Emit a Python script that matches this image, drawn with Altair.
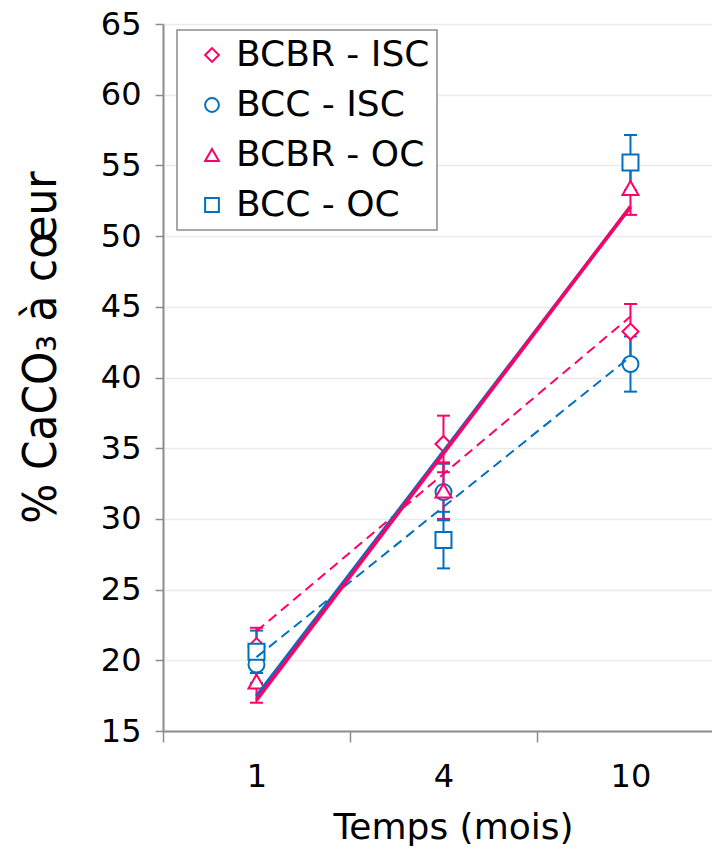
import altair as alt
import pandas as pd

# ---- data ----
series = ["BCBR - ISC", "BCC - ISC", "BCBR - OC", "BCC - OC"]
months = ["1", "4", "10"]
month_index = [1, 2, 3]

bcbr_isc = [21.0, 35.3, 43.25]
bcc_isc = [19.7, 31.9, 40.95]
bcbr_oc = [18.5, 32.0, 53.4]
bcc_oc = [20.6, 28.5, 55.2]

bcbr_isc_err = [1.3, 2.0, 1.95]
bcc_isc_err = [1.3, 2.0, 1.95]
bcbr_oc_err = [1.5, 2.0, 1.9]
bcc_oc_err = [1.5, 2.0, 1.95]

colors = ["#FF0066", "#0070C0", "#FF0066", "#0070C0"]
shapes = ["diamond", "circle", "triangle-up", "square"]
y_ticks = [15, 20, 25, 30, 35, 40, 45, 50, 55, 60, 65]

vals = [bcbr_isc, bcc_isc, bcbr_oc, bcc_oc]
errs = [bcbr_isc_err, bcc_isc_err, bcbr_oc_err, bcc_oc_err]

rows = []
for s, v, e in zip(series, vals, errs):
    for xi, m, val, er in zip(month_index, months, v, e):
        rows.append({"series": s, "xi": xi, "mois": m, "value": val,
                     "lo": val - er, "hi": val + er})
df = pd.DataFrame(rows)

label_expr = "".join(f"datum.value === {i} ? '{m}' : " for i, m in zip(month_index, months)) + "''"

xscale = alt.Scale(domain=[0.5, 3.436], nice=False, zero=False)
yscale = alt.Scale(domain=[15, 65], nice=False, zero=False)

x_axis = alt.Axis(
    values=[0.5, 1, 1.5, 2, 2.5, 3],
    labelExpr=label_expr,
    tickOpacity={"condition": {"test": "datum.value % 1 === 0", "value": 0}, "value": 1},
    grid=False,
    tickSize=11,
    labelPadding=19,
    labelFlush=False,
    labelOverlap=False,
    title="Temps (mois)",
    titleFontSize=36,
    titleX=290,
    titleY=107,
    titleBaseline="alphabetic",
    titleAlign="center",
)
y_axis = alt.Axis(
    values=y_ticks,
    tickSize=8,
    labelPadding=14,
    title="% CaCO₃ à cœur",
    titleFont="DejaVu Sans Condensed, DejaVu Sans",
    titleFontSize=47,
    titleX=-108,
    titleY=323,
    titleAngle=270,
    titleBaseline="alphabetic",
    titleAlign="center",
)

base = alt.Chart(df)
X = alt.X("xi:Q", scale=xscale, axis=x_axis)
Y = alt.Y("value:Q", scale=yscale, axis=y_axis)
YLO = alt.Y("lo:Q", scale=yscale, axis=y_axis)
YHI = alt.Y("hi:Q", scale=yscale, axis=y_axis)

err_layers = []
for s, c in zip(series, colors):
    sub = base.transform_filter(alt.datum.series == s)
    err_layers.append(sub.mark_rule(strokeWidth=2, color=c).encode(x=X, y=YLO, y2="hi:Q"))
    err_layers.append(sub.mark_tick(orient="horizontal", size=13, thickness=2,
                                    opacity=1, color=c).encode(x=X, y=YLO))
    err_layers.append(sub.mark_tick(orient="horizontal", size=13, thickness=2,
                                    opacity=1, color=c).encode(x=X, y=YHI))

leg = alt.Legend(
    title=None, orient="none", legendX=14, legendY=6, padding=7,
    strokeColor="#8c8c8c", fillColor="white",
    labelFont="DejaVu Sans", labelFontSize=36, labelColor="black", labelLimit=400,
    symbolSize=190, symbolStrokeWidth=2, symbolOffset=10, labelOffset=6,
    rowPadding=14,
)

points = base.mark_point(filled=False, fill="white", size=256, strokeWidth=2, opacity=1).encode(
    x=X, y=Y,
    stroke=alt.Stroke("series:N", scale=alt.Scale(domain=series, range=colors), legend=leg),
    shape=alt.Shape("series:N", scale=alt.Scale(domain=series, range=shapes), legend=leg),
)

line_order = [1, 0, 3, 2]
trend_layers = []
for i in line_order:
    s = series[i]
    oc = s.endswith("OC")
    mk = dict(color=colors[i], strokeWidth=3.5 if oc else 2)
    if not oc:
        mk["strokeDash"] = [10, 6]
    trend_layers.append(
        base.transform_filter(alt.datum.series == s)
        .transform_regression("xi", "value", method="linear")
        .mark_line(**mk)
        .encode(x=X, y=Y)
    )

chart = alt.layer(*err_layers, points, *trend_layers).properties(
    width=549, height=707,
    autosize=alt.AutoSizeParams(type="none"),
    padding={"left": 155, "top": 16, "right": 0, "bottom": 116},
).configure_view(stroke=None).configure_axis(
    labelFont="DejaVu Sans", labelFontSize=32, labelColor="black",
    titleFont="DejaVu Sans", titleFontWeight="normal", titleColor="black",
    domainColor="#8c8c8c", domainWidth=2, tickColor="#8c8c8c", tickWidth=1.5,
    gridColor="#ebebeb", gridWidth=1.5,
).configure_legend(strokeWidth=1.5)

chart.save("out.html", embed_options={"renderer": "svg", "actions": False})
